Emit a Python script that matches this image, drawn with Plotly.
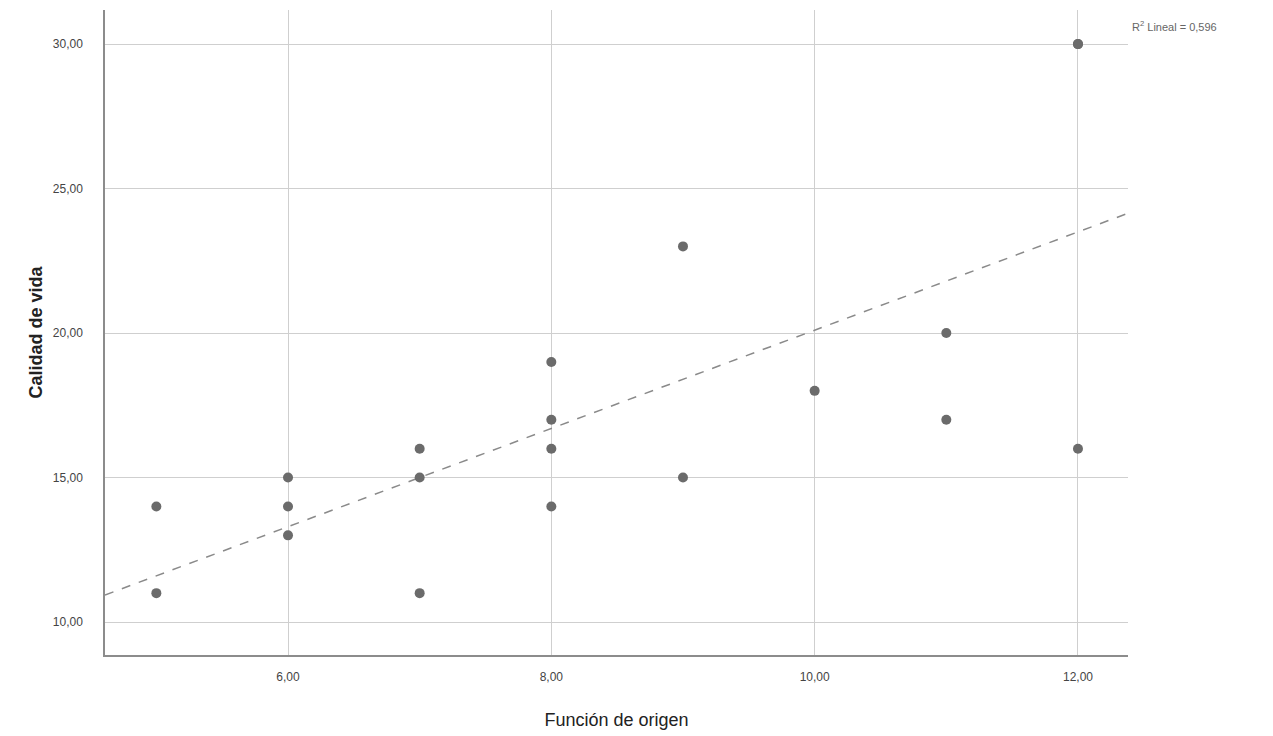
import numpy as np
import plotly.graph_objects as go

# Data (Función de origen vs Calidad de vida)
funcion_origen = [5, 5, 6, 6, 6, 7, 7, 7, 8, 8, 8, 8, 9, 9, 10, 11, 11, 12, 12, 12]
calidad_vida = [14, 11, 15, 14, 13, 16, 15, 11, 19, 17, 16, 14, 23, 15, 18, 20, 17, 30, 30, 16]

# Linear fit (SPSS "R² Lineal"), coefficients
fit_intercept = 3.1
fit_slope = 1.70

x_tickvals = [6, 8, 10, 12]
x_ticktext = ["6,00", "8,00", "10,00", "12,00"]
y_tickvals = [10, 15, 20, 25, 30]
y_ticktext = ["10,00", "15,00", "20,00", "25,00", "30,00"]
x_range = [4.61, 12.38]
y_range = [8.86, 31.18]
r2_label = "R<sup>2</sup> Lineal = 0,596"

fit_x = np.array(x_range)
fit_y = fit_intercept + fit_slope * fit_x

fig = go.Figure()
fig.add_trace(go.Scatter(
    x=fit_x, y=fit_y, mode="lines",
    line=dict(color="#8a8a8a", width=1.5, dash="dash"),
    hoverinfo="skip", showlegend=False,
))
fig.add_trace(go.Scatter(
    x=funcion_origen, y=calidad_vida, mode="markers",
    marker=dict(color="#6b6b6b", size=10, line=dict(width=0)),
    showlegend=False,
))

fig.update_layout(
    width=1273, height=736,
    margin=dict(l=105, r=145, t=10, b=81),
    paper_bgcolor="white", plot_bgcolor="white",
    font=dict(family="Liberation Sans, Arial, sans-serif", color="#333333"),
    xaxis=dict(
        range=x_range, tickvals=x_tickvals, ticktext=x_ticktext,
        showgrid=True, gridcolor="#cfcfcf", gridwidth=1,
        zeroline=False, showline=True, linecolor="#8c8c8c", linewidth=1.5,
        ticks="", ticklabelstandoff=10,
        tickfont=dict(size=12, color="#444444"),
        title=dict(text="Función de origen", font=dict(size=18, color="#222222"), standoff=30),
    ),
    yaxis=dict(
        range=y_range, tickvals=y_tickvals, ticktext=y_ticktext,
        showgrid=True, gridcolor="#cfcfcf", gridwidth=1,
        zeroline=False, showline=True, linecolor="#8c8c8c", linewidth=1.5,
        ticks="", ticklabelstandoff=18,
        tickfont=dict(size=12, color="#444444"),
        title=dict(text="<b>Calidad de vida</b>", font=dict(size=18, color="#222222"), standoff=6),
    ),
    annotations=[dict(
        text=r2_label, xref="paper", yref="paper", x=1.0, y=0.975,
        xanchor="left", yanchor="middle", showarrow=False, xshift=2,
        font=dict(size=11, color="#666666"),
    )],
)

fig.write_html("out.html")
